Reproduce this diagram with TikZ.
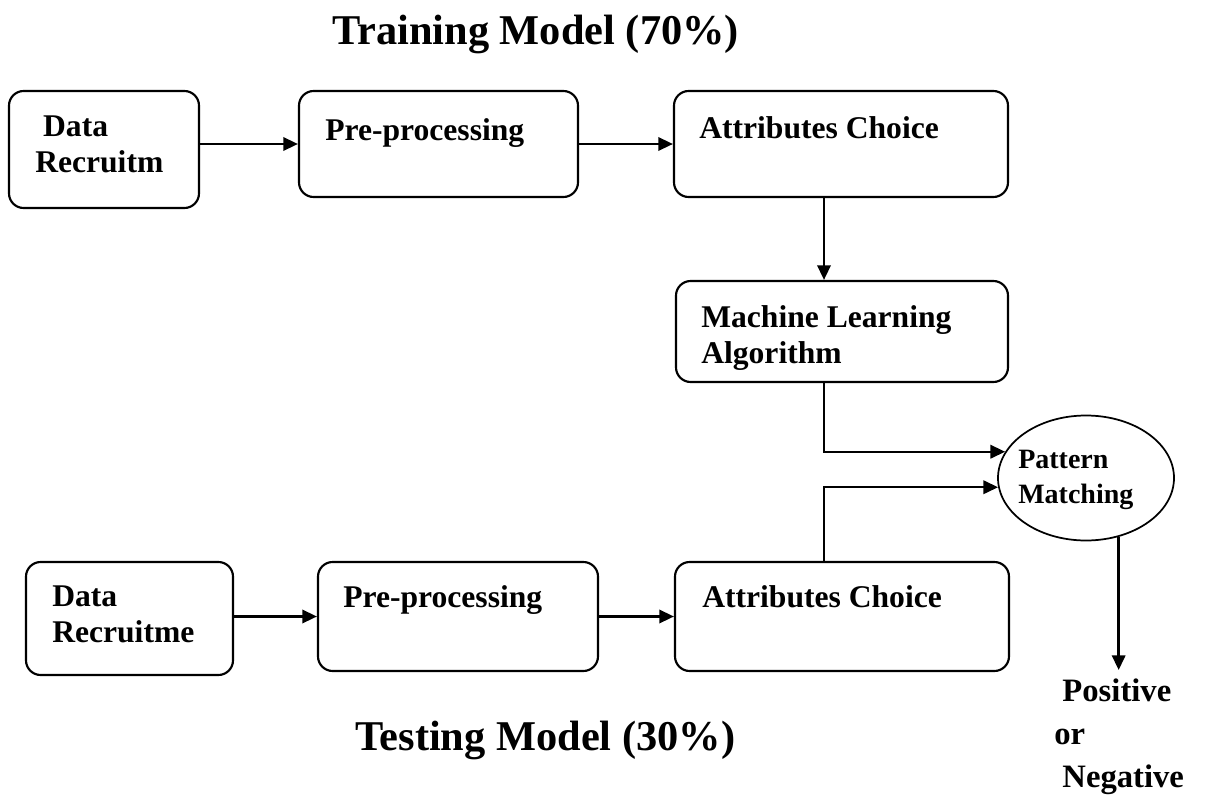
\documentclass[tikz,border=0pt]{standalone}
\usepackage{fontspec}
\setmainfont{Liberation Serif}
\usetikzlibrary{shapes.geometric,arrows.meta}

\begin{document}
\begin{tikzpicture}[x=0.75pt,y=-0.75pt,
  box/.style={draw,line width=1.6pt,rounded corners=11pt,inner sep=0pt},
  txt/.style={anchor=base west,inner sep=0pt,align=left,font=\fontsize{23.7}{27}\selectfont\bfseries},
  head/.style={anchor=base west,inner sep=0pt,font=\fontsize{31.8}{38}\selectfont\bfseries},
  arr/.style={line width=1.8pt,-{Triangle[length=11pt,width=10pt]}}]

\useasboundingbox (0,0) rectangle (1232,796);

% training model
\node[head] (trhead) at (332,44) {Training Model (70\%)};

\node[box,minimum width=142.5pt,minimum height=87.75pt] (trdata) at (104,149.5) {};
\node[box,minimum width=209.25pt,minimum height=79.5pt] (trpre) at (438.5,144) {};
\node[box,minimum width=250.5pt,minimum height=79.5pt] (trattr) at (841,144) {};
\node[box,minimum width=249pt,minimum height=75.75pt] (trml) at (842,331.5) {};

% multi-line texts: base = last line
\node[txt] (trdatatxt) at (35,172) {\ Data\\Recruitm};
\node[txt] (trpretxt) at (325,140) {Pre-processing};
\node[txt] (trattrtxt) at (699,138) {Attributes Choice};
\node[txt] (trmltxt) at (701,363) {Machine Learning\\Algorithm};

\draw[arr] (trdata.east |- trpre.west) -- (trpre.west);
\draw[arr] (trpre.east) -- (trattr.west);

\coordinate (ax) at (824,0);
\draw[arr] (trattr.south -| ax) -- (trml.north -| ax);

% matching
\node[draw,ellipse,line width=1.3pt,minimum width=132pt,minimum height=93.75pt,inner sep=0pt] (pm) at (1086,478) {};
\node[txt,font=\fontsize{21}{26}\selectfont\bfseries] (pmtxt) at (1018,503) {Pattern\\Matching};

\draw[arr] (trml.south -| ax) |- (pm.162);

% testing model
\node[box,minimum width=155.25pt,minimum height=84.75pt] (tsdata) at (129.5,618.5) {};
\node[box,minimum width=210pt,minimum height=81.75pt] (tspre) at (458,616.5) {};
\node[box,minimum width=250.5pt,minimum height=81.75pt] (tsattr) at (842,616.5) {};

\node[txt] (tsdatatxt) at (52,642) {Data\\Recruitme};
\node[txt] (tspretxt) at (343,607) {Pre-processing};
\node[txt] (tsattrtxt) at (702,607) {Attributes Choice};

\draw[arr] (tsdata.east |- tspre.west) -- (tspre.west);
\draw[arr] (tspre.east) -- (tsattr.west);
\draw[arr] (tsattr.north -| ax) |- (pm.186);

\node[head] (tshead) at (355,750) {Testing Model (30\%)};

% result
\coordinate (resin) at (1118,670);
\draw[arr] (pm.299) -- (pm.299 |- resin);
\node[txt,font=\fontsize{24.5}{32}\selectfont\bfseries] (restxt) at (1054,787) {\ Positive\\or\\\ Negative};

\end{tikzpicture}
\end{document}
